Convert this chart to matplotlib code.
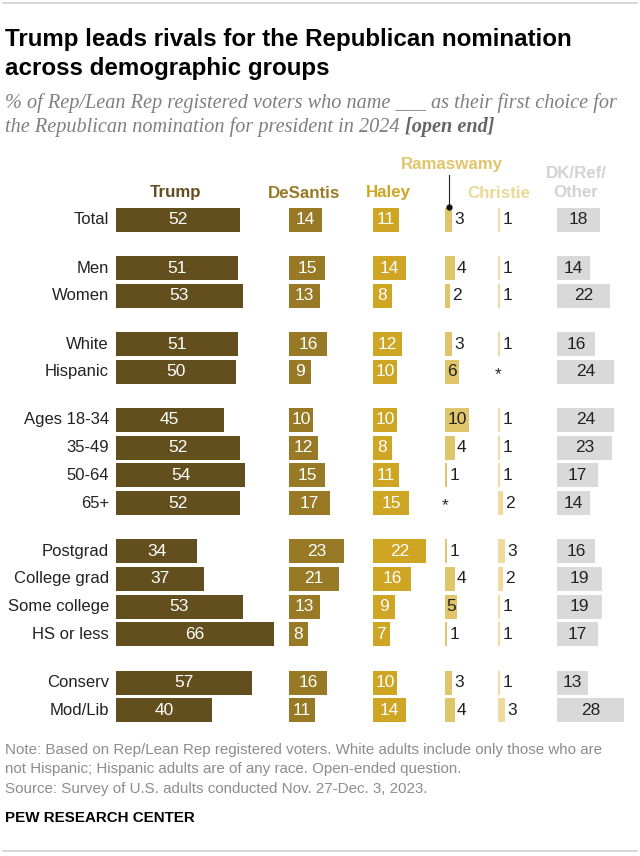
import matplotlib
matplotlib.use('Agg')
import matplotlib.pyplot as plt
from matplotlib.lines import Line2D

# ---- data ----
groups = ['Total', 'Men', 'Women', 'White', 'Hispanic', 'Ages 18-34', '35-49',
          '50-64', '65+', 'Postgrad', 'College grad', 'Some college',
          'HS or less', 'Conserv', 'Mod/Lib']
group_ids = [0, 1, 1, 2, 2, 3, 3, 3, 3, 4, 4, 4, 4, 5, 5]

trump = [52, 51, 53, 51, 50, 45, 52, 54, 52, 34, 37, 53, 66, 57, 40]
desantis = [14, 15, 13, 16, 9, 10, 12, 15, 17, 23, 21, 13, 8, 16, 11]
haley = [11, 14, 8, 12, 10, 10, 8, 11, 15, 22, 16, 9, 7, 10, 14]
ramaswamy = [3, 4, 2, 3, 6, 10, 4, 1, 0, 1, 4, 5, 1, 3, 4]   # 0 shown as "*"
christie = [1, 1, 1, 1, 0, 1, 1, 1, 2, 3, 2, 1, 1, 1, 3]
dk_other = [18, 14, 22, 16, 24, 24, 23, 17, 14, 16, 19, 19, 17, 13, 28]

title_lines = ['Trump leads rivals for the Republican nomination',
               'across demographic groups']
subtitle_1 = '% of Rep/Lean Rep registered voters who name ___ as their first choice for'
subtitle_2 = 'the Republican nomination for president in 2024 '
note_lines = ['Note: Based on Rep/Lean Rep registered voters. White adults include only those who are',
              'not Hispanic; Hispanic adults are of any race. Open-ended question.',
              'Source: Survey of U.S. adults conducted Nov. 27-Dec. 3, 2023.']

SANS = ['Liberation Sans', 'DejaVu Sans']
SERIF = ['Liberation Serif', 'DejaVu Serif']

# ---- layout in pixels ----
W, H = 640, 856
ROW = 27.7           # px between rows
GAP = 0.74           # extra space between groups, in rows
FIRST_Y = 220        # centre of the "Total" row
TOP, BOTTOM = 200, 725
SCALE = 2.39         # px per percentage point
BAR_H = 0.87

fig = plt.figure(figsize=(W / 100, H / 100), dpi=100)
fig.patch.set_facecolor('white')


def fx(x):
    return x / W


def fy(y):
    return 1 - y / H


ypos = [i + GAP * g for i, g in enumerate(group_ids)]


def col_axes(x0, x1):
    ax = fig.add_axes([fx(x0), fy(BOTTOM), (x1 - x0) / W, (BOTTOM - TOP) / H])
    ax.set_xlim(0, (x1 - x0) / SCALE)
    ax.set_ylim((BOTTOM - FIRST_Y) / ROW, (TOP - FIRST_Y) / ROW)
    ax.axis('off')
    return ax


columns = [
    # name, values, x start, x end, bar colour, header colour, text colour, label mode, header x, header y
    ('Trump', trump, 116, 285, '#634f1e', '#634f1e', 'white', 'center', 175, 193),
    ('DeSantis', desantis, 289, 370, '#987a26', '#987a26', 'white', 'center', 304, 193),
    ('Haley', haley, 373, 440, '#cea624', '#cea624', 'white', 'center', 388, 193),
    ('Ramaswamy', ramaswamy, 445, 495, '#e0c56b', '#e0c56b', '#222222', 'ram', 452, 165),
    ('Christie', christie, 498, 550, '#eedb9d', '#ecd895', '#222222', 'outside', 499, 193),
    ('DK/Ref/\nOther', dk_other, 557, 636, '#d9d9d9', '#d2d2d2', '#222222', 'center', 576, 183),
]

for name, vals, x0, x1, color, hcolor, tcolor, mode, hx, hy in columns:
    ax = col_axes(x0, x1)
    ax.barh(ypos, vals, height=BAR_H, color=color, edgecolor='none')
    for y, v in zip(ypos, vals):
        if v == 0:
            ax.text(0, y + 0.1, '*', ha='center', va='center', fontsize=12.5,
                    color='#222222', family=SANS)
            continue
        if mode == 'center' or (mode == 'ram' and v >= 5):
            ax.text(v / 2, y, str(v), ha='center', va='center', fontsize=12.5,
                    color=tcolor, family=SANS)
        else:
            ax.text(v + 2 / SCALE, y, str(v), ha='left', va='center', fontsize=12.5,
                    color=tcolor, family=SANS)
    if name == 'Trump':
        for y, g in zip(ypos, groups):
            ax.text(-7 / SCALE, y, g, ha='right', va='center', fontsize=12,
                    color='#222222', family=SANS, clip_on=False)
    fig.text(fx(hx), fy(hy), name, ha='center', va='center', fontsize=12.2,
             fontweight='bold', color=hcolor, family=SANS, linespacing=1.4)

# leader line from the Ramaswamy header to its first bar
fig.add_artist(Line2D([fx(449), fx(449)], [fy(175), fy(207)], color='#222222', lw=0.8))
fig.add_artist(Line2D([fx(449)], [fy(207)], marker='o', markersize=3.5,
                      color='#111111', linestyle='none'))

# ---- title / subtitle ----
for i, line in enumerate(title_lines):
    fig.text(fx(5), fy(46 + 29.5 * i), line, ha='left', va='baseline', fontsize=17.4,
             fontweight='bold', color='#000000', family=SANS)
fig.text(fx(5), fy(108), subtitle_1, ha='left', va='baseline', fontsize=14.6,
         style='italic', color='#7f7f7f', family=SERIF)
sub2 = fig.text(fx(5), fy(132), subtitle_2, ha='left', va='baseline', fontsize=14.6,
                style='italic', color='#7f7f7f', family=SERIF)
fig.canvas.draw()
bb = sub2.get_window_extent()
fig.text(bb.x1 / W, fy(132), '[open end]', ha='left', va='baseline', fontsize=14.6,
         style='italic', fontweight='bold', color='#666666', family=SERIF)

# ---- notes ----
for i, line in enumerate(note_lines):
    fig.text(fx(5), fy(750 + 19.5 * i), line, ha='left', va='center', fontsize=10.9,
             color='#8c8c8c', family=SANS)
fig.text(fx(5), fy(818), 'PEW RESEARCH CENTER', ha='left', va='center', fontsize=10.9,
         fontweight='bold', color='#000000', family=SANS)

# thin rules at top and bottom
fig.add_artist(Line2D([fx(3), fx(637)], [fy(3), fy(3)], color='#cfcfcf', lw=1.2))
fig.add_artist(Line2D([fx(3), fx(637)], [fy(851), fy(851)], color='#cfcfcf', lw=1.2))

fig.savefig('out.png', dpi=100, facecolor='white')
